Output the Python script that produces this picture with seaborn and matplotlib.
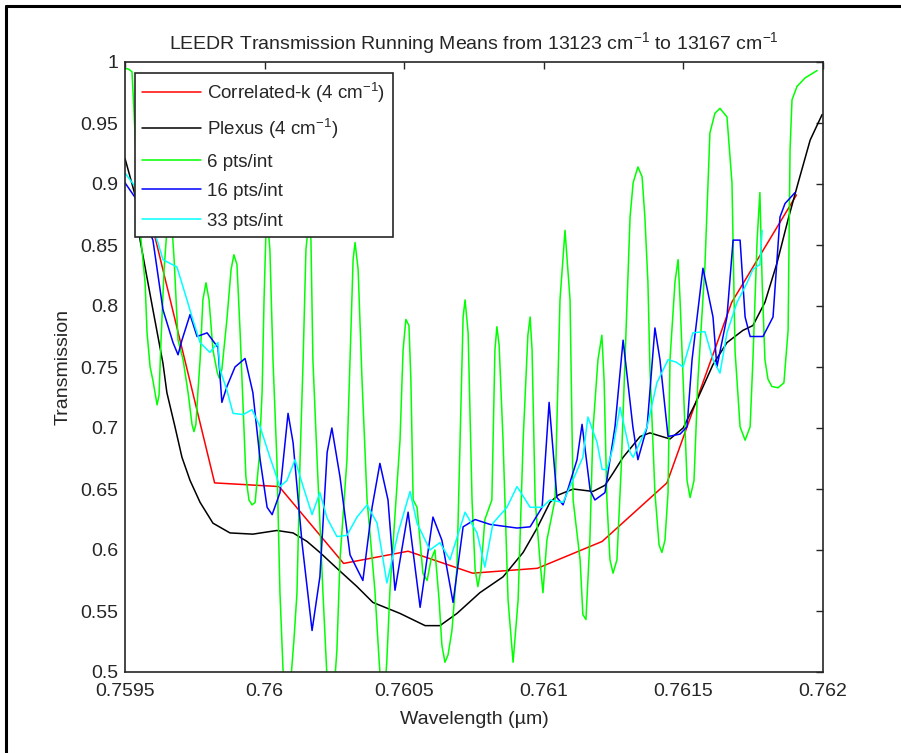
import matplotlib
matplotlib.use("Agg")
import matplotlib.pyplot as plt
import pandas as pd
import seaborn as sns
from matplotlib.lines import Line2D

# Correlated-k (4 cm-1)
ck_x = [0.759590, 0.759821, 0.760052, 0.760283, 0.760514, 0.760745, 0.760977,
        0.761209, 0.761441, 0.761673, 0.761905]
ck_y = [0.873, 0.655, 0.652, 0.589, 0.599, 0.581, 0.585, 0.607, 0.655, 0.803, 0.891]

# Plexus (4 cm-1)
px_x = [0.759500, 0.759536, 0.759554, 0.759600, 0.759636, 0.759650, 0.759679, 0.759704,
        0.759733, 0.759769, 0.759815, 0.759876, 0.759958, 0.760044, 0.760102, 0.760152,
        0.760198, 0.760259, 0.760331, 0.760388, 0.760485, 0.760575, 0.760628, 0.760689,
        0.760771, 0.760854, 0.760926, 0.760976, 0.761022, 0.761051, 0.761105, 0.761176,
        0.761219, 0.761248, 0.761284, 0.761345, 0.761380, 0.761452, 0.761499, 0.761549,
        0.761606, 0.761656, 0.761713, 0.761749, 0.761792, 0.761835, 0.761875, 0.761911,
        0.761954, 0.761997]
px_y = [0.921, 0.891, 0.854, 0.797, 0.753, 0.729, 0.701, 0.676, 0.657, 0.639, 0.622,
        0.614, 0.613, 0.616, 0.614, 0.607, 0.598, 0.585, 0.570, 0.557, 0.548, 0.538,
        0.538, 0.548, 0.565, 0.578, 0.598, 0.618, 0.639, 0.645, 0.650, 0.648, 0.653,
        0.663, 0.676, 0.693, 0.696, 0.691, 0.700, 0.723, 0.752, 0.770, 0.780, 0.784,
        0.803, 0.835, 0.871, 0.901, 0.936, 0.957]

# 6 pts/int
g6_x = [0.759500, 0.759514, 0.759525, 0.759532, 0.759543, 0.759554, 0.759572, 0.759579,
        0.759590, 0.759600, 0.759615, 0.759622, 0.759629, 0.759640, 0.759654, 0.759665,
        0.759676, 0.759690, 0.759708, 0.759726, 0.759740, 0.759747, 0.759754, 0.759761,
        0.759769, 0.759779, 0.759790, 0.759801, 0.759815, 0.759830, 0.759837, 0.759847,
        0.759865, 0.759880, 0.759890, 0.759901, 0.759912, 0.759926, 0.759933, 0.759944,
        0.759955, 0.759966, 0.759980, 0.759991, 0.759998, 0.760005, 0.760012, 0.760019,
        0.760030, 0.760044, 0.760055, 0.760066, 0.760077, 0.760091, 0.760105, 0.760116,
        0.760127, 0.760138, 0.760148, 0.760159, 0.760166, 0.760173, 0.760188, 0.760209,
        0.760224, 0.760234, 0.760249, 0.760259, 0.760270, 0.760295, 0.760306, 0.760317,
        0.760324, 0.760335, 0.760349, 0.760367, 0.760395, 0.760410, 0.760420, 0.760431,
        0.760438, 0.760449, 0.760485, 0.760496, 0.760506, 0.760517, 0.760524, 0.760532,
        0.760546, 0.760567, 0.760582, 0.760596, 0.760610, 0.760625, 0.760635, 0.760646,
        0.760657, 0.760671, 0.760689, 0.760700, 0.760711, 0.760718, 0.760729, 0.760743,
        0.760754, 0.760764, 0.760775, 0.760789, 0.760814, 0.760825, 0.760832, 0.760840,
        0.760854, 0.760872, 0.760890, 0.760908, 0.760926, 0.760943, 0.760951, 0.760958,
        0.760969, 0.760986, 0.760997, 0.761011, 0.761040, 0.761058, 0.761076, 0.761094,
        0.761105, 0.761130, 0.761140, 0.761151, 0.761165, 0.761176, 0.761194, 0.761208,
        0.761216, 0.761226, 0.761237, 0.761248, 0.761262, 0.761277, 0.761291, 0.761309,
        0.761320, 0.761337, 0.761352, 0.761362, 0.761373, 0.761380, 0.761398, 0.761413,
        0.761423, 0.761434, 0.761445, 0.761452, 0.761470, 0.761481, 0.761488, 0.761499,
        0.761513, 0.761524, 0.761538, 0.761552, 0.761577, 0.761595, 0.761613, 0.761631,
        0.761656, 0.761674, 0.761685, 0.761703, 0.761721, 0.761739, 0.761749, 0.761764,
        0.761774, 0.761782, 0.761792, 0.761803, 0.761817, 0.761839, 0.761860, 0.761875,
        0.761882, 0.761889, 0.761907, 0.761936, 0.761979]
g6_y = [0.995, 0.994, 0.992, 0.961, 0.903, 0.862, 0.819, 0.778, 0.750, 0.739, 0.719,
        0.727, 0.772, 0.830, 0.875, 0.877, 0.838, 0.772, 0.756, 0.729, 0.703, 0.697,
        0.703, 0.729, 0.756, 0.805, 0.819, 0.805, 0.764, 0.746, 0.741, 0.748, 0.789,
        0.830, 0.842, 0.834, 0.780, 0.701, 0.660, 0.641, 0.637, 0.639, 0.674, 0.729,
        0.805, 0.862, 0.866, 0.846, 0.756, 0.674, 0.565, 0.502, 0.477, 0.485, 0.526,
        0.565, 0.674, 0.756, 0.846, 0.871, 0.854, 0.756, 0.674, 0.565, 0.493, 0.469,
        0.485, 0.518, 0.592, 0.674, 0.756, 0.838, 0.852, 0.830, 0.739, 0.641, 0.567,
        0.510, 0.477, 0.485, 0.510, 0.567, 0.690, 0.764, 0.789, 0.784, 0.739, 0.641,
        0.635, 0.581, 0.575, 0.592, 0.600, 0.559, 0.522, 0.508, 0.514, 0.534, 0.586,
        0.690, 0.791, 0.805, 0.778, 0.641, 0.584, 0.570, 0.584, 0.625, 0.641, 0.764,
        0.783, 0.768, 0.690, 0.559, 0.508, 0.559, 0.690, 0.776, 0.791, 0.764, 0.641,
        0.592, 0.565, 0.608, 0.641, 0.805, 0.862, 0.805, 0.641, 0.592, 0.547, 0.543,
        0.608, 0.698, 0.756, 0.776, 0.739, 0.641, 0.592, 0.581, 0.592, 0.666, 0.756,
        0.873, 0.901, 0.914, 0.906, 0.873, 0.819, 0.750, 0.647, 0.604, 0.598, 0.608,
        0.647, 0.756, 0.820, 0.838, 0.805, 0.739, 0.657, 0.643, 0.657, 0.739, 0.832,
        0.942, 0.958, 0.962, 0.955, 0.901, 0.763, 0.701, 0.690, 0.701, 0.756, 0.854,
        0.893, 0.820, 0.756, 0.740, 0.734, 0.733, 0.737, 0.780, 0.928, 0.969, 0.980,
        0.987, 0.993]

# 16 pts/int
b16_x = [0.759500, 0.759536, 0.759600, 0.759636, 0.759672, 0.759690, 0.759704, 0.759733,
         0.759758, 0.759794, 0.759833, 0.759847, 0.759865, 0.759894, 0.759930, 0.759958,
         0.759984, 0.760009, 0.760027, 0.760055, 0.760084, 0.760102, 0.760134, 0.760170,
         0.760198, 0.760224, 0.760241, 0.760270, 0.760306, 0.760352, 0.760385, 0.760413,
         0.760442, 0.760467, 0.760514, 0.760557, 0.760603, 0.760635, 0.760675, 0.760711,
         0.760754, 0.760807, 0.760904, 0.760951, 0.760994, 0.761019, 0.761047, 0.761069,
         0.761119, 0.761137, 0.761166, 0.761183, 0.761219, 0.761255, 0.761284, 0.761319,
         0.761337, 0.761370, 0.761398, 0.761416, 0.761445, 0.761488, 0.761513, 0.761531,
         0.761570, 0.761606, 0.761620, 0.761656, 0.761678, 0.761703, 0.761721, 0.761739,
         0.761785, 0.761821, 0.761846, 0.761864, 0.761900]
b16_y = [0.901, 0.889, 0.854, 0.797, 0.770, 0.760, 0.772, 0.793, 0.775, 0.778, 0.766,
         0.721, 0.734, 0.750, 0.757, 0.729, 0.674, 0.635, 0.629, 0.647, 0.712, 0.688,
         0.606, 0.534, 0.578, 0.680, 0.700, 0.660, 0.596, 0.575, 0.635, 0.671, 0.641,
         0.567, 0.631, 0.553, 0.627, 0.608, 0.557, 0.619, 0.625, 0.621, 0.618, 0.619,
         0.635, 0.721, 0.643, 0.637, 0.674, 0.703, 0.649, 0.641, 0.647, 0.701, 0.772,
         0.701, 0.674, 0.701, 0.782, 0.756, 0.693, 0.695, 0.701, 0.756, 0.831, 0.791,
         0.750, 0.791, 0.854, 0.854, 0.791, 0.775, 0.775, 0.791, 0.873, 0.884, 0.893]

# 33 pts/int
c33_x = [0.759500, 0.759536, 0.759615, 0.759636, 0.759686, 0.759722, 0.759740, 0.759769,
         0.759804, 0.759833, 0.759840, 0.759865, 0.759887, 0.759923, 0.759955, 0.759984,
         0.760019, 0.760055, 0.760080, 0.760109, 0.760138, 0.760170, 0.760198, 0.760224,
         0.760259, 0.760295, 0.760331, 0.760367, 0.760403, 0.760438, 0.760478, 0.760521,
         0.760546, 0.760592, 0.760628, 0.760664, 0.760718, 0.760761, 0.760789, 0.760818,
         0.760868, 0.760904, 0.760951, 0.760994, 0.761022, 0.761069, 0.761140, 0.761158,
         0.761191, 0.761209, 0.761226, 0.761248, 0.761273, 0.761309, 0.761320, 0.761370,
         0.761405, 0.761445, 0.761474, 0.761499, 0.761534, 0.761577, 0.761606, 0.761631,
         0.761656, 0.761692, 0.761728, 0.761749, 0.761774, 0.761782]
c33_y = [0.909, 0.898, 0.854, 0.838, 0.832, 0.805, 0.791, 0.770, 0.762, 0.770, 0.748,
         0.731, 0.712, 0.711, 0.715, 0.701, 0.676, 0.652, 0.657, 0.674, 0.652, 0.629,
         0.647, 0.626, 0.611, 0.612, 0.627, 0.637, 0.622, 0.573, 0.614, 0.648, 0.622,
         0.600, 0.606, 0.592, 0.631, 0.614, 0.586, 0.622, 0.635, 0.652, 0.635, 0.635,
         0.641, 0.639, 0.676, 0.709, 0.688, 0.666, 0.666, 0.684, 0.717, 0.680, 0.676,
         0.701, 0.737, 0.756, 0.754, 0.750, 0.778, 0.779, 0.756, 0.745, 0.778, 0.803,
         0.819, 0.830, 0.834, 0.862]

labels = ["Correlated-k (4 cm$^{-1}$)", "Plexus (4 cm$^{-1}$)", "6 pts/int",
          "16 pts/int", "33 pts/int"]
colors = ["#ff0000", "#000000", "#00ff00", "#0000ff", "#00ffff"]

x_ticks = [0.7595, 0.76, 0.7605, 0.761, 0.7615, 0.762]
x_ticklabels = ["0.7595", "0.76", "0.7605", "0.761", "0.7615", "0.762"]
y_ticks = [0.5, 0.55, 0.6, 0.65, 0.7, 0.75, 0.8, 0.85, 0.9, 0.95, 1.0]
y_ticklabels = ["0.5", "0.55", "0.6", "0.65", "0.7", "0.75", "0.8", "0.85", "0.9", "0.95", "1"]

sns.set_style("white")
plt.rcParams['font.family'] = ['Liberation Sans', 'DejaVu Sans']
plt.rcParams['mathtext.fontset'] = 'custom'
plt.rcParams['mathtext.rm'] = 'Liberation Sans'
plt.rcParams['mathtext.it'] = 'Liberation Sans'

fig = plt.figure(figsize=(9.01, 7.53), dpi=100)
ax = fig.add_axes([125 / 901, 1 - 672 / 753, 698 / 901, 610 / 753])

series = [(ck_x, ck_y), (px_x, px_y), (g6_x, g6_y), (b16_x, b16_y), (c33_x, c33_y)]
for (xs, ys), lab, col in zip(series, labels, colors):
    df = pd.DataFrame({"wl": xs, "tr": ys})
    sns.lineplot(data=df, x="wl", y="tr", ax=ax, color=col, lw=1.1, label=lab,
                 sort=False, estimator=None)

ax.set_xlim(0.7595, 0.762)
ax.set_ylim(0.5, 1.0)
ax.set_xticks(x_ticks)
ax.set_xticklabels(x_ticklabels)
ax.set_yticks(y_ticks)
ax.set_yticklabels(y_ticklabels)
ax.tick_params(direction="in", length=5, width=1, top=True, right=True,
               labelsize=14, colors="#262626", pad=5)
ax.tick_params(axis="x", pad=8)
for s in ax.spines.values():
    s.set_color("#262626")
    s.set_linewidth(1.2)

ax.set_xlabel("Wavelength (µm)", fontsize=14, labelpad=8)
ax.set_ylabel("Transmission", fontsize=14, labelpad=6)
ax.set_title("LEEDR Transmission Running Means from 13123 cm$^{-1}$ to 13167 cm$^{-1}$",
             fontsize=14, pad=9)

leg = ax.legend(loc="upper left", bbox_to_anchor=(0.0143, 0.982), fontsize=13.5,
                frameon=True, fancybox=False, edgecolor="#262626", framealpha=1,
                handlelength=3.1, handletextpad=0.35, borderaxespad=0, labelspacing=0.66,
                borderpad=0.4)
leg.get_frame().set_linewidth(1.2)

# outer frame (left and top edges of the window)
fig.add_artist(Line2D([6 / 901, 6 / 901], [0, 1 - 6 / 753], color="black", lw=2.2))
fig.add_artist(Line2D([6 / 901, 1], [1 - 6 / 753, 1 - 6 / 753], color="black", lw=2.2))

fig.savefig("out.png", dpi=100)
